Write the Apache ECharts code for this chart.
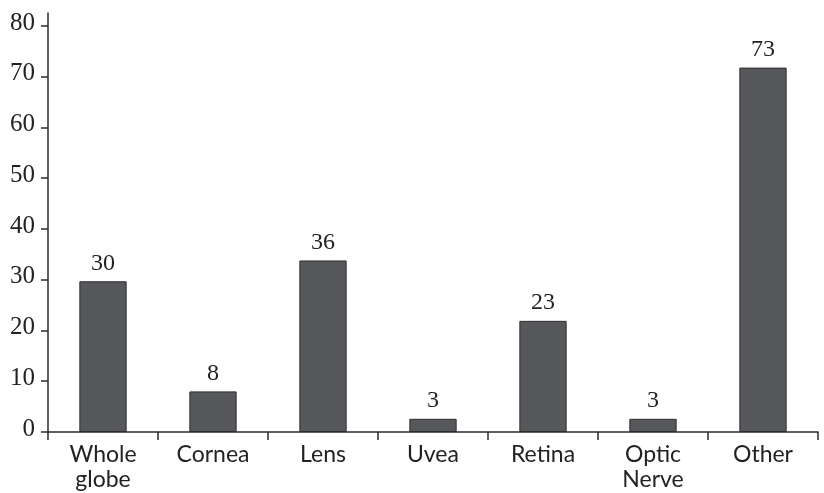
<!DOCTYPE html>
<html>
<head>
<meta charset="utf-8">
<script src="https://cdn.jsdelivr.net/npm/echarts@6/dist/echarts.min.js"></script>
<style>
  html, body { margin: 0; padding: 0; background: #fff; }
  #chart { width: 824px; height: 493px; }
</style>
</head>
<body>
<div id="chart"></div>
<script>
// categories along the x axis
const categories = ['Whole\nglobe', 'Cornea', 'Lens', 'Uvea', 'Retina', 'Optic\nNerve', 'Other']
// bar heights as drawn in the picture
const barHeights = [29.7, 8.0, 33.8, 2.6, 21.9, 2.6, 71.8]
// numbers printed above the bars
const valueLabels = ['30', '8', '36', '3', '23', '3', '73']
// y axis tick labels
const yTicks = [0, 10, 20, 30, 40, 50, 60, 70, 80]
// the axis line runs a little past the last tick
const yMax = 82.56

const chart = echarts.init(document.getElementById('chart'), null, { renderer: 'canvas' })

const axisColor = '#2b2b2b'
const numFont = '"Liberation Serif", "DejaVu Serif", serif'
const catFont = 'Lato, "Open Sans", sans-serif'

chart.setOption({
  backgroundColor: '#fff',
  animation: false,
  grid: { left: 48, right: 6, top: 13, bottom: 61, containLabel: false },
  xAxis: {
    type: 'category',
    data: categories,
    boundaryGap: true,
    axisLine: { lineStyle: { color: axisColor, width: 1.5 } },
    axisTick: { show: true, inside: false, length: 8, lineStyle: { color: axisColor, width: 1.5 } },
    axisLabel: { color: '#222', fontFamily: catFont, fontSize: 23, lineHeight: 25, margin: 10, interval: 0 },
    splitLine: { show: false },
  },
  yAxis: {
    type: 'value',
    min: 0, max: yMax,
    axisLine: { show: true, lineStyle: { color: axisColor, width: 1.5 } },
    axisTick: { show: true, inside: false, length: 7, customValues: yTicks, lineStyle: { color: axisColor, width: 1.5 } },
    axisLabel: { color: '#222', fontFamily: numFont, fontSize: 25, margin: 13, customValues: yTicks, verticalAlign: 'bottom', lineHeight: 24, padding: [0, 0, -9, 0] },
    splitLine: { show: false },
  },
  series: [{
    type: 'bar',
    data: barHeights,
    barWidth: '43%',
    itemStyle: { color: '#56585b', borderColor: '#2e2e2e', borderWidth: 1 },
    label: {
      show: true, position: 'top', distance: 6,
      color: '#222', fontFamily: numFont, fontSize: 24,
      formatter: p => valueLabels[p.dataIndex],
    },
  }],
})
</script>
</body>
</html>
